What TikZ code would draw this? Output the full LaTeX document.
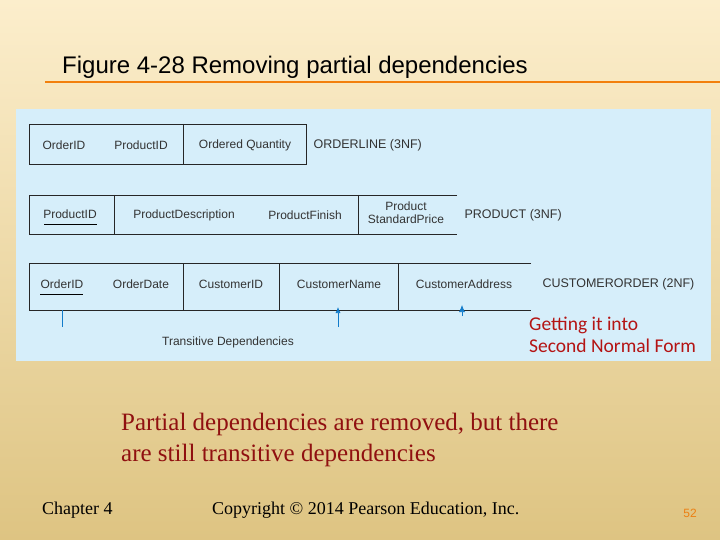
\documentclass[tikz,border=0pt]{standalone}
\usepackage{fontspec}
\usetikzlibrary{arrows.meta}
\setmainfont{Liberation Sans}
\newfontfamily\serif{Liberation Serif}
\newfontfamily\cali{Carlito}
\begin{document}
\begin{tikzpicture}[x=1pt,y=-1pt,
  cell/.style={font=\fontsize{12}{13}\selectfont, text=black!80},
  lbl/.style={font=\fontsize{12.5}{14}\selectfont, text=black!80, anchor=west},
  bx/.style={draw=black!85, line width=0.8pt},
  dep/.style={draw=cyan!60!blue, line width=0.7pt}]
\definecolor{cream}{RGB}{252,238,204}
\definecolor{tan}{RGB}{222,196,130}
\definecolor{panel}{RGB}{214,238,250}
\definecolor{darkred}{RGB}{180,20,20}
\useasboundingbox (0,0) rectangle (720,540);
\shade[top color=cream, bottom color=tan] (0,0) rectangle (720,540);
\node[anchor=west, font=\fontsize{24}{27}\selectfont, inner sep=0pt] (title) at (62,67) {Figure 4-28 Removing partial dependencies};
\draw[draw=orange!80!brown, line width=1.2pt] (45,82) -- (720,82);
\fill[panel] (16,109) rectangle (711,361);
% row 1
\draw[bx] (29,124) rectangle (306,164);
\draw[bx] (183,124) -- (183,164);
\node[cell] (a1) at (64,145) {OrderID};
\node[cell] (a2) at (141,145) {ProductID};
\node[cell] (a3) at (245,145) {Ordered Quantity};
\node[lbl] (t1) at (310,145) {ORDERLINE (3NF)};
% row 2
\draw[bx] (457,195) -- (29,195) -- (29,234) -- (457,234);
\draw[bx] (114,195) -- (114,234) (358,195) -- (358,234);
\node[cell] (b1) at (70,214) {ProductID};
\draw[black] (44,224) -- (97,224);
\node[cell] (b2) at (184,215) {ProductDescription};
\node[cell] (b3) at (305,215) {ProductFinish};
\node[cell, align=center] (b4) at (406,213) {Product\\StandardPrice};
\node[lbl] (t2) at (461,215) {PRODUCT (3NF)};
% row 3
\draw[bx] (531,263) -- (29,263) -- (29,310) -- (531,310);
\draw[bx] (183,263) -- (183,310) (279,263) -- (279,310) (398,263) -- (398,310);
\node[cell] (c1) at (62,284) {OrderID};
\draw[black] (40,294) -- (83,294);
\node[cell] (c2) at (141,284) {OrderDate};
\node[cell] (c3) at (231,284) {CustomerID};
\node[cell] (c4) at (339,284) {CustomerName};
\node[cell] (c5) at (464,284) {CustomerAddress};
\node[lbl] (t3) at (539,284) {CUSTOMERORDER (2NF)};
\coordinate (d0) at (62,310);
\coordinate (d0b) at (62,327);
\coordinate (d1) at (338,327);
\coordinate (d1b) at (338,307);
\coordinate (d2) at (462,316);
\coordinate (d2b) at (462,305);
\draw[dep] (d0) -- (d0b);
\draw[dep,-{Latex[length=6pt,width=5pt]}] (d1) -- (d1b);
\draw[dep,-{Latex[length=7pt,width=6pt]}] (d2) -- (d2b);
\node[cell] (td) at (228,342) {Transitive Dependencies};
\node[anchor=west, text=darkred, align=left, inner sep=0pt, font=\cali\fontsize{19.5}{22}\selectfont] (red) at (529,335) {Getting it into\\Second Normal Form};
\node[anchor=west, text=darkred!80!black, align=left, inner sep=0pt, font=\serif\fontsize{25}{31}\selectfont] (main) at (121,440) {Partial dependencies are removed, but there\\are still transitive dependencies};
\node[anchor=west, inner sep=0pt, font=\serif\fontsize{18}{20}\selectfont] (ch) at (42,510) {Chapter 4};
\node[anchor=west, inner sep=0pt, font=\serif\fontsize{18}{20}\selectfont] (cp) at (212,510) {Copyright \textcopyright{} 2014 Pearson Education, Inc.};
\node[font=\fontsize{12}{13}\selectfont, text=orange!70!brown] (pg) at (690,513) {52};
\end{tikzpicture}
\end{document}
